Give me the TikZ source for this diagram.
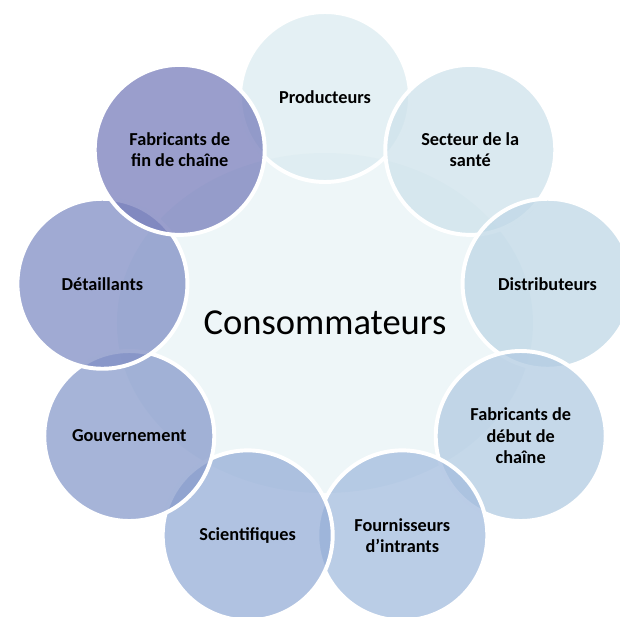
\documentclass[tikz,border=0pt]{standalone}
\usepackage{fontspec}
\setmainfont{Carlito}
\usetikzlibrary{shapes.geometric}
\definecolor{coreFill}{RGB}{238,246,248}
\definecolor{tintA}{RGB}{219,235,240}
\definecolor{tintB}{RGB}{206,226,235}
\definecolor{tintC}{RGB}{191,215,230}
\definecolor{tintD}{RGB}{178,203,226}
\definecolor{tintE}{RGB}{163,188,222}
\definecolor{tintF}{RGB}{150,174,215}
\definecolor{tintG}{RGB}{136,155,203}
\definecolor{tintH}{RGB}{128,142,196}
\definecolor{tintI}{RGB}{120,126,187}

\begin{document}
\begin{tikzpicture}[
    actor/.style={shape=circle, minimum size=4.25cm, inner sep=0pt, draw=white,
      line width=2.8pt, fill opacity=0.75, text opacity=1, align=center,
      font=\fontsize{13}{15.2}\selectfont\bfseries}
  ]
  \useasboundingbox (-8.125,-7.325) rectangle (7.375,8.075);
  \node[shape=ellipse, minimum width=10.4cm, minimum height=8.5cm, inner sep=0pt,
    fill=coreFill, font=\fontsize{26}{30}\selectfont] (C) at (0,0) {Consommateurs};
  \node[actor, fill=tintA] (P)  at (90:5.65)  {Producteurs};
  \node[actor, fill=tintB] (S)  at (50:5.65)  {Secteur de la\\santé};
  \node[actor, fill=tintC] (D)  at (10:5.65)  {Distributeurs};
  \node[actor, fill=tintD] (FD) at (-30:5.65) {Fabricants de\\début de\\chaîne};
  \node[actor, fill=tintE] (FI) at (-70:5.65) {Fournisseurs\\d’intrants};
  \node[actor, fill=tintF] (SC) at (-110:5.65) {Scientifiques};
  \node[actor, fill=tintG] (G)  at (-150:5.65) {Gouvernement};
  \node[actor, fill=tintH] (R)  at (170:5.65) {Détaillants};
  \node[actor, fill=tintI] (FF) at (130:5.65) {Fabricants de\\fin de chaîne};
\end{tikzpicture}
\end{document}
